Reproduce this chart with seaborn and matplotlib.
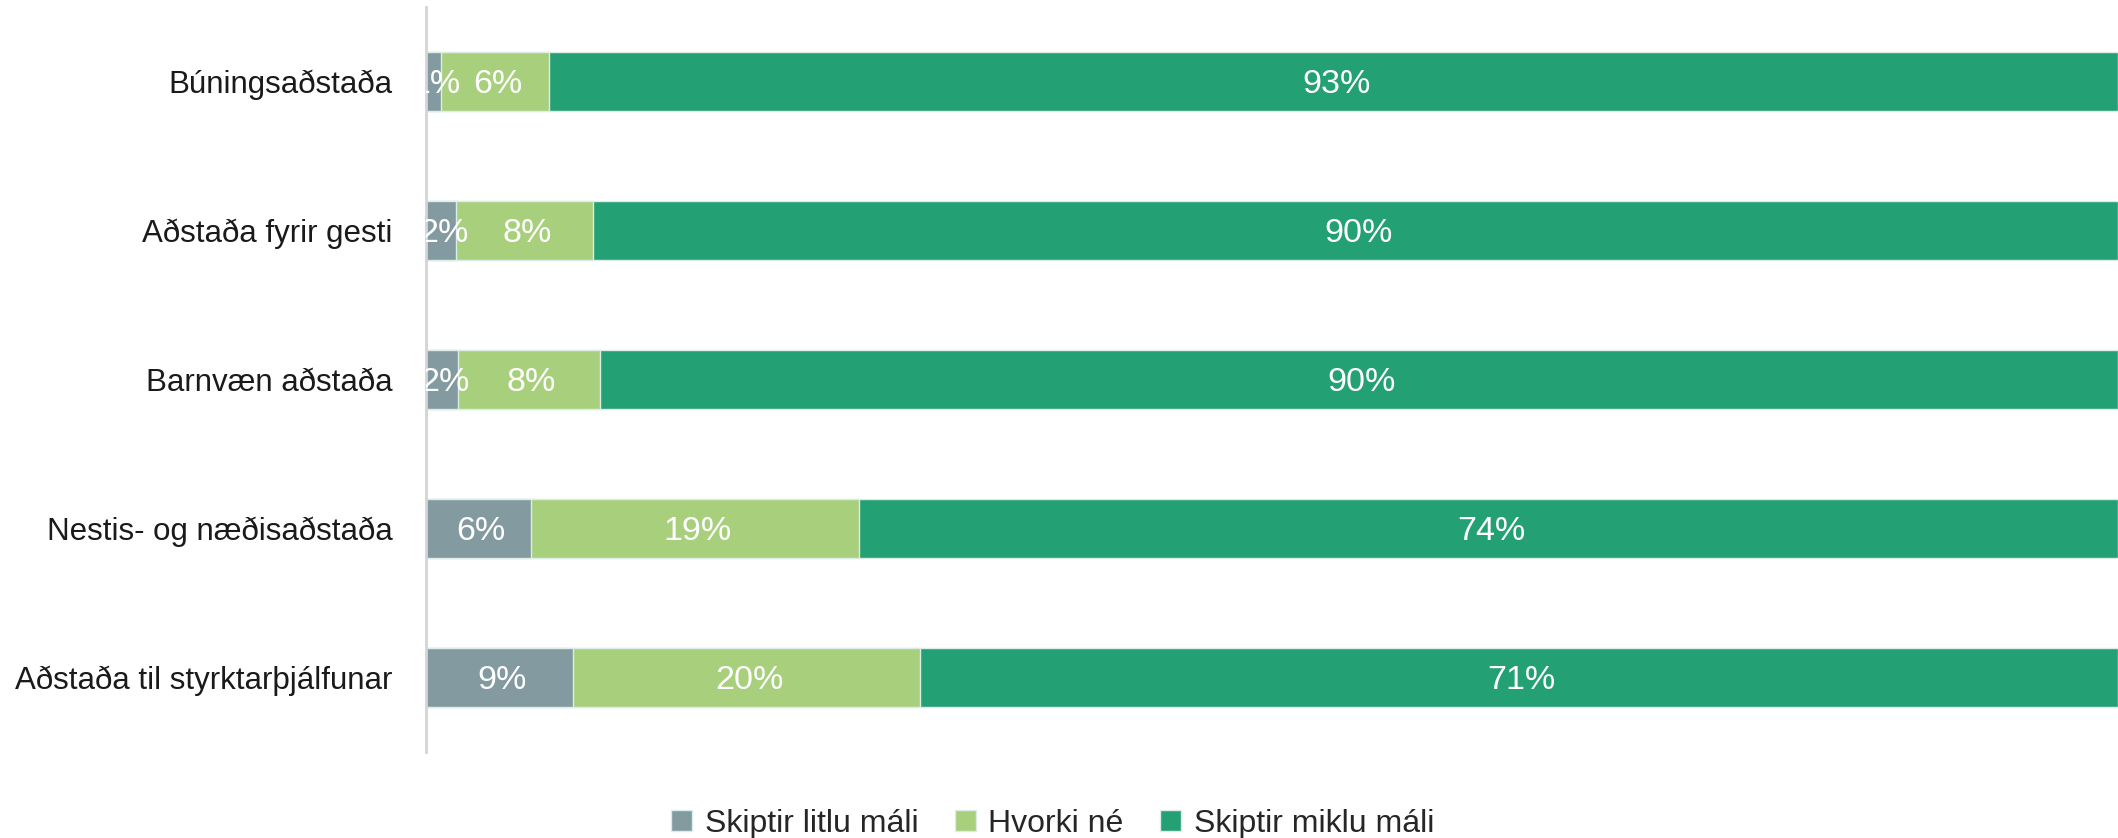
# Stöðluð staflað súlurit - mikilvægi aðstöðu
import numpy as np
import pandas as pd
import matplotlib
matplotlib.use("Agg")
import matplotlib.pyplot as plt
import matplotlib.patches as mpatches
import seaborn as sns

# Gögn (lesin af myndinni, hlutfall %)
flokkar = ["Búningsaðstaða", "Aðstaða fyrir gesti", "Barnvæn aðstaða",
           "Nestis- og næðisaðstaða", "Aðstaða til styrktarþjálfunar"]
litlu = [0.9, 1.8, 1.9, 6.2, 8.7]
hvorki = [6.4, 8.1, 8.4, 19.4, 20.5]
miklu = [92.7, 90.1, 89.7, 74.4, 70.8]
raðir = ["Skiptir litlu máli", "Hvorki né", "Skiptir miklu máli"]
litir = ["#839ba0", "#a8d07c", "#24a075"]

df = pd.DataFrame({"flokkur": flokkar, "litlu": litlu,
                   "hvorki": hvorki, "miklu": miklu})
df["c1"] = df["litlu"]
df["c2"] = df["c1"] + df["hvorki"]
df["c3"] = df["c2"] + df["miklu"]

sns.set_style("white")
plt.rcParams["font.family"] = ["Liberation Sans", "DejaVu Sans"]

fig = plt.figure(figsize=(21.18, 8.38), dpi=100)
ax = fig.add_axes([0.2011, 0.1026, 0.7989, 0.889])

# Staflað með því að teikna uppsafnaðar summur ofan á hver aðra
for col, litur in zip(["c3", "c2", "c1"], litir[::-1]):
    sns.barplot(data=df, x=col, y="flokkur", color=litur, width=0.4,
                orient="h", edgecolor="#dcece6", linewidth=1, ax=ax,
                saturation=1)

# Prósentutölur inni í súlunum (klipptar við ásinn eins og í frumriti)
for i, row in df.iterrows():
    starts = [0, row["c1"], row["c2"]]
    vals = [row["litlu"], row["hvorki"], row["miklu"]]
    for s, v in zip(starts, vals):
        ax.text(s + v / 2 + 0.15, i + 0.02, f"{round(v)}%", ha="center",
                va="center", color="white", fontsize=24.5, clip_on=True)

ax.set_xlim(0, 100)
ax.set_ylim(4.5, -0.5)
ax.set_xlabel("")
ax.set_ylabel("")
ax.set_xticks([])
ax.tick_params(axis="y", length=0, pad=24, labelsize=22.5, labelcolor="#1a1a1a")
for s in ["top", "right", "bottom"]:
    ax.spines[s].set_visible(False)
ax.spines["left"].set_color("#d4d4d4")
ax.spines["left"].set_linewidth(2)

handles = [mpatches.Patch(facecolor=c, edgecolor="#dcece6", label=l)
           for c, l in zip(litir, raðir)]
fig.legend(handles=handles, loc="center", bbox_to_anchor=(0.497, 0.017),
           ncol=3, frameon=False, fontsize=23, handlelength=0.65,
           handleheight=0.65, handletextpad=0.4, columnspacing=1.15)

fig.savefig("out.png", dpi=100)
